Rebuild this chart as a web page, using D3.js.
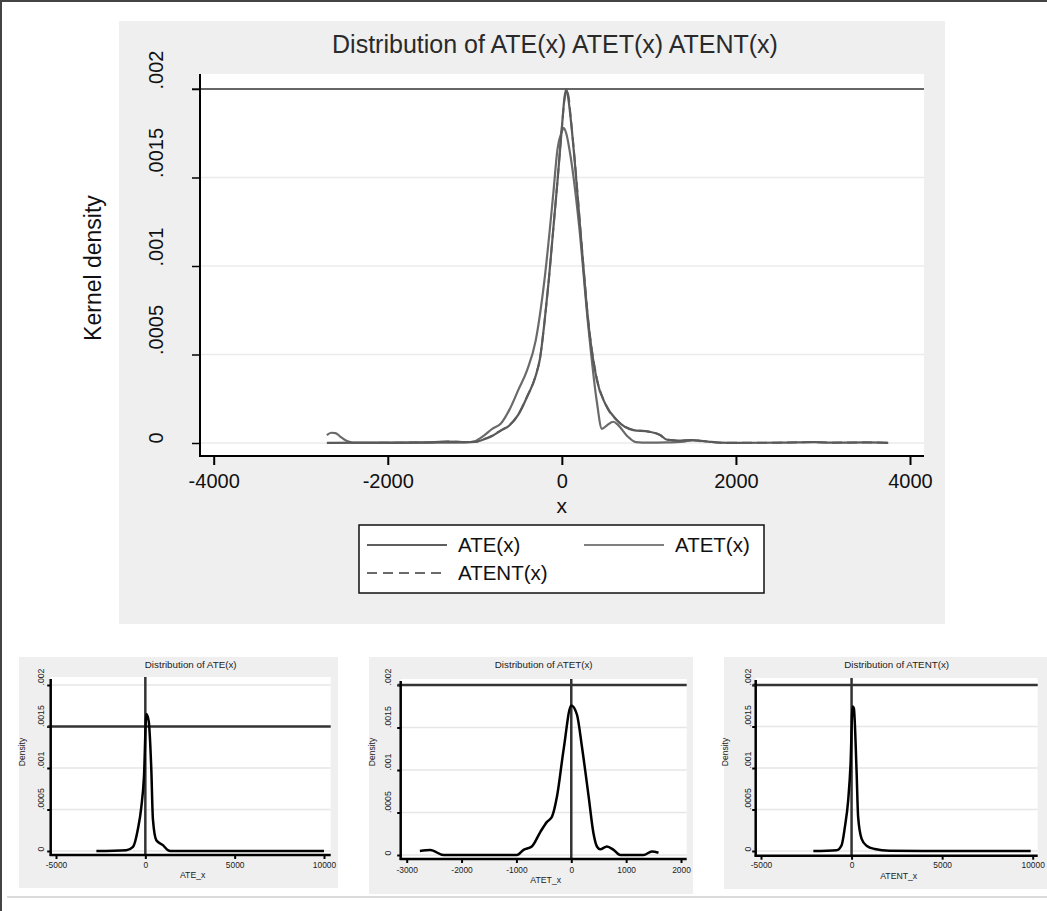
<!DOCTYPE html>
<html lang="en">
<head>
<meta charset="UTF-8">
<title>Distribution of ATE(x) ATET(x) ATENT(x)</title>
<script src="https://cdnjs.cloudflare.com/ajax/libs/d3/7.8.5/d3.min.js"></script>
<style>
    body { margin: 0; background: #fff; }
    svg { display: block; font-family: "Liberation Sans", Arial, sans-serif; }
</style>
</head>
<body>
<svg width="1047" height="911"></svg>
<script>
    // ---- data ----
    var yTicks = [0, 0.0005, 0.001, 0.0015, 0.002];
    var yTickLabels = ["0", ".0005", ".001", ".0015", ".002"];
    var xTicksMain = [-4000, -2000, 0, 2000, 4000];
    var xTicksWide = [-5000, 0, 5000, 10000];
    var xTicksAtet = [-3000, -2000, -1000, 0, 1000, 2000];

    // combined plot: kernel densities
    var ateX = [-2700, -2000, -1500, -1300, -1100, -1000, -900, -800, -700, -600, -500, -400, -300, -250, -200, -150, -100, -50, 0, 30, 50, 70, 100, 150, 200, 250, 300, 400, 500, 630, 820, 1000, 1130, 1200, 1250, 1350, 1500, 1600, 1680, 1820, 2000, 2500, 2900, 3100, 3500, 3750];
    var ateY = [0.000001, 0.000002, 0.000004, 0.000008, 0.000005, 0.000006, 0.00002, 0.00004, 0.00007, 0.0001, 0.00016, 0.00026, 0.00038, 0.00048, 0.00068, 0.00092, 0.0012, 0.00148, 0.00178, 0.00195, 0.002, 0.00196, 0.00184, 0.00158, 0.00128, 0.00098, 0.0007, 0.00036, 0.00022, 0.00013, 0.000073, 0.000064, 0.000045, 0.00002, 0.000017, 0.000013, 0.000017, 0.000012, 0.000008, 0.000002, 0.000001, 0.000002, 0.000005, 0.000002, 0.000003, 0.000001];

    var atetX = [-2700, -2650, -2600, -2550, -2500, -2450, -2400, -2000, -1500, -1100, -1000, -900, -800, -700, -600, -500, -400, -300, -200, -100, -50, 0, 20, 50, 100, 200, 300, 400, 460, 520, 590, 650, 750, 850, 1000, 1200, 1400, 1500, 1600];
    var atetY = [0.000045, 0.000058, 0.000056, 0.000038, 0.00002, 0.000008, 0.000002, 0.000001, 0.000002, 0.000004, 0.00001, 0.00004, 0.00008, 0.00011, 0.00019, 0.0003, 0.00041, 0.00058, 0.00092, 0.0014, 0.00166, 0.00176, 0.00178, 0.00175, 0.00162, 0.00122, 0.00068, 0.00024, 0.00008, 0.0001, 0.00012, 0.0001, 0.00004, 0.000005, 0.000002, 0.000003, 0.000008, 0.000015, 0.00001];

    var atentX = [-2100, -1500, -1300, -1100, -1000, -900, -800, -700, -600, -500, -400, -300, -250, -200, -150, -100, -50, 0, 30, 55, 80, 100, 150, 200, 250, 300, 400, 500, 630, 820, 1000, 1130, 1200, 1250, 1350, 1500, 1600, 1680, 1820, 2000, 2500, 2900, 3100, 3500, 3750];
    var atentY = [0.000001, 0.000004, 0.000008, 0.000005, 0.000006, 0.000021, 0.000042, 0.000072, 0.000102, 0.000162, 0.000262, 0.000382, 0.000482, 0.000682, 0.000922, 0.0012, 0.00148, 0.00178, 0.00194, 0.00199, 0.00195, 0.00185, 0.00159, 0.00129, 0.00099, 0.00071, 0.00037, 0.00022, 0.00013, 0.000074, 0.000064, 0.000045, 0.00002, 0.000017, 0.000013, 0.000017, 0.000012, 0.000008, 0.000002, 0.000001, 0.000002, 0.000005, 0.000002, 0.000003, 0.000001];

    // small plots
    var subAteX = [-2740, -1060, -690, -410, -225, -75, 55, 185, 335, 425, 615, 985, 1260, 1400, 10000];
    var subAteY = [0, 0.00001, 0.00005, 0.00027, 0.00053, 0.0009, 0.00165, 0.00157, 0.00098, 0.00038, 0.00013, 0.00007, 0.00001, 0, 0];

    var subAtetX = [-2760, -2570, -2330, -990, -870, -720, -565, -443, -352, -260, -140, 0, 104, 195, 316, 406, 468, 528, 650, 771, 893, 1317, 1470, 1590];
    var subAtetY = [0.000047, 0.000059, 0, 0, 0.00006, 0.0001, 0.00027, 0.00039, 0.00045, 0.00069, 0.00124, 0.00176, 0.00165, 0.00127, 0.00069, 0.00025, 0.0001, 0.000067, 0.0001, 0.00006, 0, 0, 0.00004, 0.000027];

    var subAtentX = [-2110, -824, -550, -368, -187, -55, 55, 126, 275, 363, 550, 825, 1280, 2100, 3930, 9890];
    var subAtentY = [0, 0.00001, 0.00007, 0.00029, 0.00061, 0.00105, 0.00174, 0.00172, 0.00097, 0.00041, 0.00015, 0.000064, 0.000024, 0.000004, 0.000001, 0];

    var svg = d3.select("svg");

    function pts(xs, ys) {
        return xs.map(function (d, i) { return [d, ys[i]]; });
    }

    // outer frame
    svg.append("line").attr("x1", 0).attr("x2", 1047).attr("y1", 1).attr("y2", 1)
        .attr("stroke", "#444").attr("stroke-width", 2);
    svg.append("line").attr("x1", 1).attr("x2", 1).attr("y1", 0).attr("y2", 911)
        .attr("stroke", "#444").attr("stroke-width", 2);
    svg.append("line").attr("x1", 7).attr("x2", 1047).attr("y1", 897).attr("y2", 897)
        .attr("stroke", "#cfcfcf").attr("stroke-width", 1.5);

    // ===== main chart =====
    var plot = {left: 200, right: 924, top: 74, bottom: 456};
    var x = d3.scaleLinear().domain([-4000, 4000]).range([213.7, 910]);
    var y = d3.scaleLinear().domain([0, 0.002]).range([443, 89]);

    svg.append("rect").attr("x", 119).attr("y", 21).attr("width", 826).attr("height", 603)
        .attr("fill", "#efefef");
    svg.append("rect").attr("x", plot.left).attr("y", plot.top)
        .attr("width", plot.right - plot.left).attr("height", plot.bottom - plot.top)
        .attr("fill", "#fff");

    // grid
    svg.append("g").selectAll("line").data(yTicks.slice(0, 4)).join("line")
        .attr("x1", plot.left).attr("x2", plot.right)
        .attr("y1", function (d) { return y(d); }).attr("y2", function (d) { return y(d); })
        .attr("stroke", "#ebebeb").attr("stroke-width", 1.5);

    // line at .002
    svg.append("line").attr("x1", 192).attr("x2", plot.right)
        .attr("y1", y(0.002)).attr("y2", y(0.002))
        .attr("stroke", "#333").attr("stroke-width", 1.5);

    svg.append("clipPath").attr("id", "clipMain").append("rect")
        .attr("x", plot.left).attr("y", plot.top)
        .attr("width", plot.right - plot.left).attr("height", plot.bottom - plot.top);

    var line = d3.line().x(function (d) { return x(d[0]); }).y(function (d) { return y(d[1]); })
        .curve(d3.curveMonotoneX);

    var curves = svg.append("g").attr("clip-path", "url(#clipMain)").attr("fill", "none");
    curves.append("path").attr("d", line(pts(atentX, atentY)))
        .attr("stroke", "#666").attr("stroke-width", 2).attr("stroke-dasharray", "10,5");
    curves.append("path").attr("d", line(pts(atetX, atetY)))
        .attr("stroke", "#6a6a6a").attr("stroke-width", 2.2);
    curves.append("path").attr("d", line(pts(ateX, ateY)))
        .attr("stroke", "#5a5a5a").attr("stroke-width", 2.2);

    // axes
    var yAxis = svg.append("g").attr("transform", "translate(" + plot.left + ",0)")
        .call(d3.axisLeft(y).tickValues(yTicks)
            .tickFormat(function (d, i) { return yTickLabels[i]; }).tickSize(8));
    yAxis.select(".domain").remove();
    yAxis.selectAll(".tick line").attr("stroke", "#000").attr("stroke-width", 1.5);
    yAxis.selectAll(".tick text")
        .attr("transform", "rotate(-90)").attr("x", 0).attr("y", -37).attr("dy", 0)
        .attr("text-anchor", "start").attr("font-size", 20).attr("fill", "#111")
        .attr("font-family", "Liberation Sans, Arial, sans-serif");

    var xAxis = svg.append("g").attr("transform", "translate(0," + plot.bottom + ")")
        .call(d3.axisBottom(x).tickValues(xTicksMain)
            .tickFormat(function (d) { return String(d); }).tickSize(9));
    xAxis.select(".domain").remove();
    xAxis.selectAll(".tick line").attr("stroke", "#000").attr("stroke-width", 2);
    xAxis.selectAll(".tick text").attr("y", 32).attr("dy", 0).attr("font-size", 20)
        .attr("fill", "#111").attr("font-family", "Liberation Sans, Arial, sans-serif");

    svg.append("line").attr("x1", plot.left).attr("x2", plot.left)
        .attr("y1", plot.top).attr("y2", plot.bottom + 1)
        .attr("stroke", "#000").attr("stroke-width", 2);
    svg.append("line").attr("x1", plot.left - 1).attr("x2", plot.right)
        .attr("y1", plot.bottom).attr("y2", plot.bottom)
        .attr("stroke", "#000").attr("stroke-width", 2);

    // titles
    svg.append("text").attr("x", 555).attr("y", 53).attr("text-anchor", "middle")
        .attr("font-size", 25).attr("fill", "#2a2a2a").text("Distribution of ATE(x) ATET(x) ATENT(x)");
    svg.append("text").attr("transform", "translate(101,268) rotate(-90)")
        .attr("text-anchor", "middle").attr("font-size", 23).attr("fill", "#111")
        .text("Kernel density");
    svg.append("text").attr("x", x(0)).attr("y", 513).attr("text-anchor", "middle")
        .attr("font-size", 21).attr("fill", "#111").text("x");

    // legend
    var lg = svg.append("g");
    lg.append("rect").attr("x", 359).attr("y", 525).attr("width", 405).attr("height", 68)
        .attr("fill", "#fff").attr("stroke", "#111").attr("stroke-width", 1.5);
    var legendItems = [
        {label: "ATE(x)", x: 367, y: 545, color: "#5e5e5e", dash: null},
        {label: "ATET(x)", x: 584, y: 545, color: "#808080", dash: null},
        {label: "ATENT(x)", x: 367, y: 573, color: "#6a6a6a", dash: "10,6"}
    ];
    legendItems.forEach(function (d) {
        lg.append("line").attr("x1", d.x).attr("x2", d.x + 80).attr("y1", d.y).attr("y2", d.y)
            .attr("stroke", d.color).attr("stroke-width", 2)
            .attr("stroke-dasharray", d.dash);
        lg.append("text").attr("x", d.x + 91).attr("y", d.y + 7).attr("font-size", 20.5)
            .attr("fill", "#111").text(d.label);
    });

    // ===== small charts =====
    function drawSub(c) {
        var g = svg.append("g");
        var sx = d3.scaleLinear().domain(c.xDomain).range(c.xRange);
        var sy = d3.scaleLinear().domain([0, 0.002]).range(c.yRange);
        var p = c.plot;

        g.append("rect").attr("x", c.panel[0]).attr("y", c.panel[1])
            .attr("width", c.panel[2] - c.panel[0]).attr("height", c.panel[3] - c.panel[1])
            .attr("fill", "#efefef");
        g.append("rect").attr("x", p[0]).attr("y", p[1])
            .attr("width", p[2] - p[0]).attr("height", p[3] - p[1]).attr("fill", "#fff");

        g.append("g").selectAll("line").data(yTicks).join("line")
            .attr("x1", p[0]).attr("x2", p[2])
            .attr("y1", function (d) { return sy(d); }).attr("y2", function (d) { return sy(d); })
            .attr("stroke", "#e6e6e6").attr("stroke-width", 1.5);

        var ya = g.append("g").attr("transform", "translate(" + p[0] + ",0)")
            .call(d3.axisLeft(sy).tickValues(yTicks)
                .tickFormat(function (d, i) { return yTickLabels[i]; }).tickSize(3.5));
        ya.select(".domain").remove();
        ya.selectAll(".tick line").attr("stroke", "#000").attr("stroke-width", 2);
        ya.selectAll(".tick text")
            .attr("transform", "rotate(-90)").attr("x", 0).attr("y", -c.labelOffset).attr("dy", 0)
            .attr("text-anchor", "start").attr("font-size", 8.7).attr("fill", "#222")
            .attr("font-family", "Liberation Sans, Arial, sans-serif");

        var xa = g.append("g").attr("transform", "translate(0," + p[3] + ")")
            .call(d3.axisBottom(sx).tickValues(c.xTicks)
                .tickFormat(function (d) { return String(d); }).tickSize(4));
        xa.select(".domain").remove();
        xa.selectAll(".tick line").attr("stroke", "#000").attr("stroke-width", 2);
        xa.selectAll(".tick text").attr("y", c.tickBase - p[3]).attr("dy", 0)
            .attr("font-size", 8.4).attr("fill", "#222")
            .attr("font-family", "Liberation Sans, Arial, sans-serif");

        // reference lines
        g.append("line").attr("x1", p[0] - 3).attr("x2", p[2])
            .attr("y1", sy(c.yLine)).attr("y2", sy(c.yLine))
            .attr("stroke", "#333").attr("stroke-width", 2.5);
        g.append("line").attr("x1", sx(0)).attr("x2", sx(0))
            .attr("y1", p[1]).attr("y2", p[3])
            .attr("stroke", "#333").attr("stroke-width", 2.5);

        var sl = d3.line().x(function (d) { return sx(d[0]); }).y(function (d) { return sy(d[1]); })
            .curve(d3.curveMonotoneX);
        g.append("path").attr("d", sl(pts(c.xs, c.ys))).attr("fill", "none")
            .attr("stroke", "#000").attr("stroke-width", 2.5).attr("stroke-linejoin", "round");

        g.append("line").attr("x1", p[0]).attr("x2", p[0]).attr("y1", p[1] + 2).attr("y2", p[3] + 1)
            .attr("stroke", "#000").attr("stroke-width", 2.5);
        g.append("line").attr("x1", p[0] - 1).attr("x2", p[2]).attr("y1", p[3]).attr("y2", p[3])
            .attr("stroke", "#000").attr("stroke-width", 2.5);

        var cx = (p[0] + p[2]) / 2;
        g.append("text").attr("x", cx).attr("y", c.panel[1] + 10.5).attr("text-anchor", "middle")
            .attr("font-size", 9.8).attr("fill", "#222").text(c.title);
        g.append("text").attr("x", cx + 2).attr("y", c.xTitleBase).attr("text-anchor", "middle")
            .attr("font-size", 8.7).attr("fill", "#222").text(c.xTitle);
        g.append("text").attr("transform", "translate(" + c.densityX + ",752) rotate(-90)")
            .attr("text-anchor", "middle").attr("font-size", 8.5).attr("fill", "#222").text("Density");
    }

    drawSub({
        panel: [19, 657, 338, 888], plot: [50.7, 677, 330.7, 855],
        xDomain: [-5000, 10000], xRange: [56, 324], yRange: [851, 685],
        xTicks: xTicksWide, yLine: 0.0015, labelOffset: 6.5, tickBase: 868,
        xTitleBase: 878, densityX: 24.5,
        title: "Distribution of ATE(x)", xTitle: "ATE_x", xs: subAteX, ys: subAteY
    });
    drawSub({
        panel: [369, 657, 693, 894], plot: [400.7, 679, 686.7, 859],
        xDomain: [-3000, 2000], xRange: [406.7, 681], yRange: [855, 685],
        xTicks: xTicksAtet, yLine: 0.002, labelOffset: 10, tickBase: 872.7,
        xTitleBase: 883.3, densityX: 374.5,
        title: "Distribution of ATET(x)", xTitle: "ATET_x", xs: subAtetX, ys: subAtetY
    });
    drawSub({
        panel: [724, 657, 1047, 889], plot: [755.7, 678, 1037.7, 855.7],
        xDomain: [-5000, 10000], xRange: [761, 1032.7], yRange: [851, 685],
        xTicks: xTicksWide, yLine: 0.002, labelOffset: 5, tickBase: 868.3,
        xTitleBase: 879, densityX: 728,
        title: "Distribution of ATENT(x)", xTitle: "ATENT_x", xs: subAtentX, ys: subAtentY
    });
</script>
</body>
</html>
